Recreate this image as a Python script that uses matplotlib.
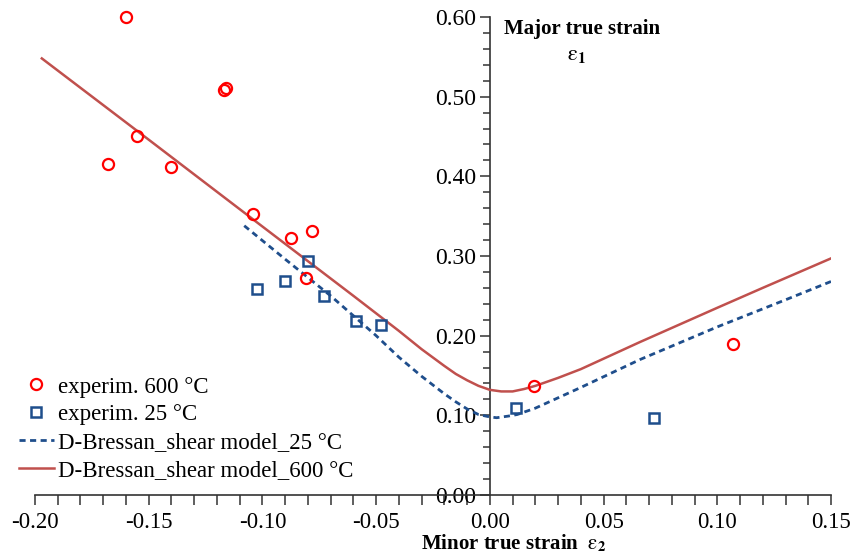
import matplotlib.pyplot as plt
from matplotlib.ticker import MultipleLocator, FormatStrFormatter

plt.rcParams['font.family'] = ['Liberation Serif', 'DejaVu Serif']
plt.rcParams['mathtext.fontset'] = 'stix'
plt.rcParams['axes.unicode_minus'] = False

exp600_x = [-0.160, -0.155, -0.168, -0.140, -0.117, -0.116, -0.104, -0.0875, -0.078, -0.081, 0.0195, 0.107]
exp600_y = [0.600, 0.450, 0.415, 0.412, 0.508, 0.511, 0.353, 0.323, 0.332, 0.272, 0.137, 0.190]

exp25_x = [-0.1025, -0.090, -0.080, -0.073, -0.059, -0.048, 0.0115, 0.072]
exp25_y = [0.258, 0.268, 0.294, 0.250, 0.219, 0.213, 0.109, 0.097]

# model curves
mod25_x = [-0.108, -0.09, -0.07, -0.05, -0.04, -0.03, -0.02, -0.015, -0.01, -0.005, 0.0, 0.003,
           0.008, 0.012, 0.02, 0.03, 0.04, 0.066, 0.10, 0.13, 0.15]
mod25_y = [0.338, 0.296, 0.250, 0.200, 0.173, 0.149, 0.127, 0.117, 0.108, 0.101, 0.098, 0.097,
           0.099, 0.101, 0.109, 0.122, 0.135, 0.170, 0.211, 0.245, 0.268]

mod600_x = [-0.197, -0.15, -0.10, -0.06, -0.05, -0.04, -0.03, -0.02, -0.015, -0.01, -0.005, 0.0,
            0.005, 0.01, 0.015, 0.02, 0.03, 0.04, 0.066, 0.10, 0.12, 0.15]
mod600_y = [0.548, 0.446, 0.337, 0.250, 0.228, 0.206, 0.183, 0.162, 0.152, 0.144, 0.137, 0.132,
            0.130, 0.130, 0.133, 0.137, 0.147, 0.158, 0.192, 0.235, 0.260, 0.297]

fig = plt.figure(figsize=(8.59, 5.55), dpi=100)
ax = fig.add_axes([35 / 859, 1 - 495 / 555, (831 - 35) / 859, (495 - 17) / 555])

ax.plot(exp600_x, exp600_y, 'o', ms=8, mfc='none', mec='#ff0000', mew=1.6,
        label='experim. 600 °C', zorder=4, clip_on=False)
ax.plot(exp25_x, exp25_y, 's', ms=7.5, mfc='none', mec='#1f4e8c', mew=1.8,
        label='experim. 25 °C', zorder=4, clip_on=False)
ax.plot(mod25_x, mod25_y, '--', color='#1f4e8c', lw=2, dashes=(2.2, 1.6),
        label='D-Bressan_shear model_25 °C', zorder=3)
ax.plot(mod600_x, mod600_y, '-', color='#c0504d', lw=1.8,
        label='D-Bressan_shear model_600 °C', zorder=3)

ax.set_xlim(-0.20, 0.15)
ax.set_ylim(0.0, 0.60)

ax.spines['left'].set_position(('data', 0))
ax.spines['bottom'].set_position(('data', 0))
ax.spines['top'].set_visible(False)
ax.spines['right'].set_visible(False)
for s in ('left', 'bottom'):
    ax.spines[s].set_linewidth(1.2)
    ax.spines[s].set_color('#333333')

ax.xaxis.set_major_locator(MultipleLocator(0.05))
ax.xaxis.set_minor_locator(MultipleLocator(0.01))
ax.yaxis.set_major_locator(MultipleLocator(0.10))
ax.yaxis.set_minor_locator(MultipleLocator(0.02))
ax.xaxis.set_major_formatter(FormatStrFormatter('%.2f'))
ax.yaxis.set_major_formatter(FormatStrFormatter('%.2f'))

ax.tick_params(axis='x', which='both', direction='out', length=7, width=1.1,
               color='#333333', labelsize=16.5, pad=5)
ax.tick_params(axis='y', which='major', direction='out', length=7, width=1.1,
               color='#333333', labelsize=17, pad=3)
ax.tick_params(axis='y', which='minor', direction='out', length=5, width=1.1,
               color='#333333')

ax.text(0.006, 0.585, 'Major true strain', fontsize=15, fontweight='bold',
        ha='left', va='center')
ax.text(0.038, 0.552, r'$\mathrm{\varepsilon}_\mathbf{1}$', fontsize=16,
        ha='center', va='center')

fig.text(514 / 859, 1 - 543 / 555, r'Minor true strain  $\mathrm{\varepsilon}_\mathbf{2}$',
         fontsize=15, fontweight='bold', ha='center', va='center')

ax.legend(loc='lower left', bbox_to_anchor=(-0.037, 0.0), frameon=False,
          fontsize=16.5, handlelength=1.5, handletextpad=0.2, labelspacing=0.3,
          borderaxespad=0.2)

fig.savefig('out.png', dpi=100)
